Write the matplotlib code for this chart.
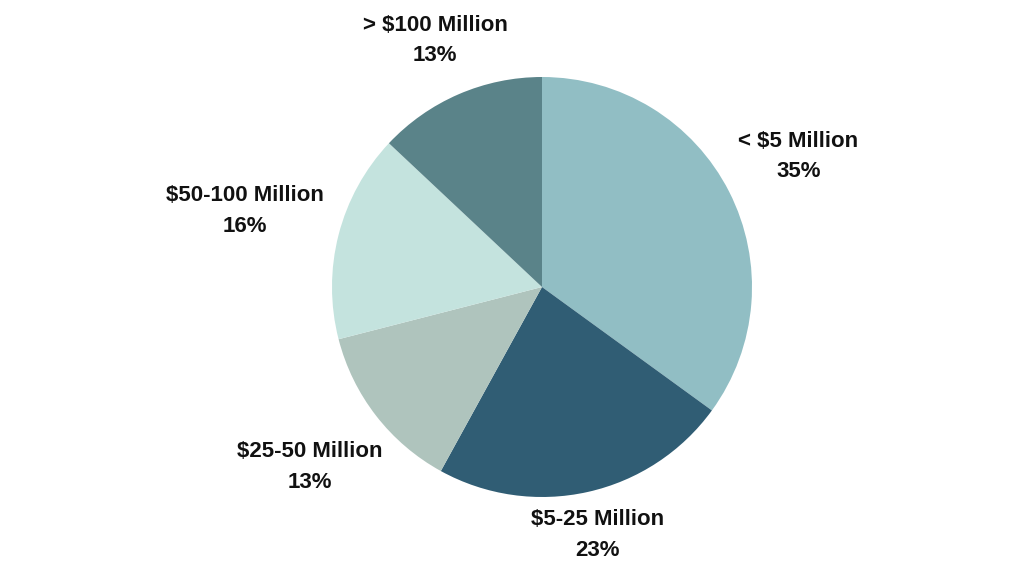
import matplotlib.pyplot as plt
import numpy as np

# Share of companies by revenue band
labels = ["< $5 Million", "$5-25 Million", "$25-50 Million", "$50-100 Million", "> $100 Million"]
shares = [35, 23, 13, 16, 13]
colors = ["#91BEC4", "#305D74", "#AFC4BD", "#C4E3DE", "#5A8389"]
label_dist = [1.37, 1.21, 1.40, 1.46, 1.28]

fig = plt.figure(figsize=(10.24, 5.76), dpi=100)
cx, cy, r = 542, 287, 210
ax = fig.add_axes([(cx - r) / 1024, (576 - cy - r) / 576, 2 * r / 1024, 2 * r / 576])

wedges, _ = ax.pie(shares, colors=colors, startangle=90, counterclock=False,
                   radius=1, wedgeprops=dict(linewidth=0))

for w, lab, s, d in zip(wedges, labels, shares, label_dist):
    ang = np.deg2rad((w.theta1 + w.theta2) / 2)
    ax.text(d * np.cos(ang), d * np.sin(ang), f"{lab}\n{s}%", ha="center", va="center",
            fontsize=16, fontweight="bold", family="Liberation Sans", linespacing=1.6,
            color="#111111")

ax.set_xlim(-1, 1)
ax.set_ylim(-1, 1)
ax.set_aspect("equal")
ax.axis("off")
fig.savefig("out.png", dpi=100)
